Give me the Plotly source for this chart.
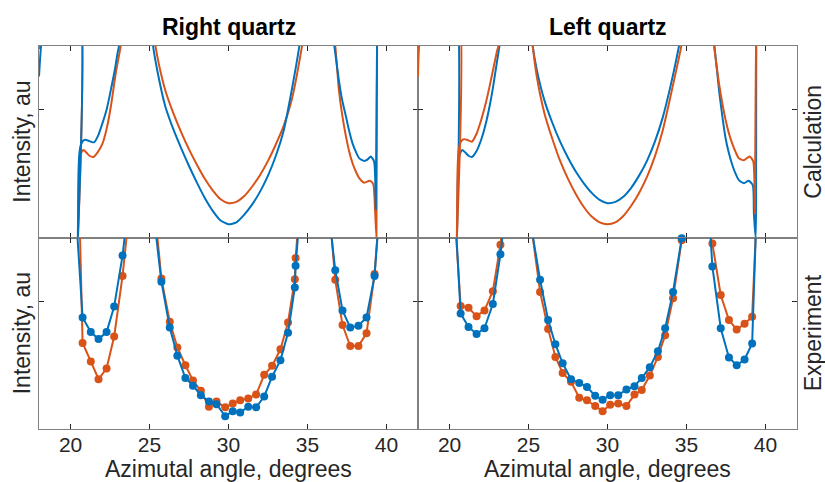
import plotly.graph_objects as go

BLUE = "#0072BD"
ORANGE = "#D95319"

# ---------------- Calculation (top row) ----------------
# Right quartz
calcR_blue_x = [18.0, 18.13, 18.5, 20.38, 20.46, 20.5, 20.55, 20.65, 20.78, 20.92, 21.1, 21.3, 21.49, 21.75, 22.02, 22.3, 22.55, 22.8, 22.97, 23.07, 23.3, 24.2, 25.0, 25.22, 25.5, 26.0, 26.5, 27.0, 27.5, 28.0, 28.5, 29.0, 29.5, 30.0, 30.5, 31.0, 31.5, 32.0, 32.5, 33.0, 33.5, 34.0, 34.49, 34.7, 35.6, 36.5, 36.7, 36.99, 37.2, 37.44, 37.65, 37.86, 38.07, 38.28, 38.59, 38.8, 39.01, 39.22, 39.33, 39.44, 40.0, 42.0]
calcR_blue_y = [2.52, 3.0, 3.8, 4.0, 0.0, 1.0, 1.3, 1.45, 1.51, 1.53, 1.52, 1.50, 1.49, 1.6, 1.79, 2.02, 2.31, 2.62, 2.88, 3.0, 3.5, 8.0, 3.6, 3.0, 2.6, 2.05, 1.7, 1.40, 1.12, 0.86, 0.62, 0.42, 0.27, 0.21, 0.24, 0.36, 0.52, 0.72, 0.97, 1.28, 1.68, 2.3, 3.0, 3.4, 8.0, 3.4, 3.0, 2.46, 2.15, 1.89, 1.66, 1.47, 1.34, 1.24, 1.20, 1.22, 1.27, 1.19, 0.45, 4.0, 8.0, 8.0]
calcR_orange_x = [18.0, 18.05, 18.5, 20.38, 20.47, 20.52, 20.6, 20.7, 20.82, 21.0, 21.2, 21.43, 21.7, 22.02, 22.3, 22.55, 22.86, 23.18, 23.4, 24.3, 25.1, 25.37, 25.6, 26.0, 26.5, 27.0, 27.5, 28.0, 28.5, 29.0, 29.5, 30.0, 30.5, 31.0, 31.5, 32.0, 32.5, 33.0, 33.5, 34.0, 34.66, 34.9, 35.7, 36.55, 36.76, 36.99, 37.2, 37.44, 37.65, 37.86, 38.07, 38.28, 38.59, 38.95, 39.16, 39.28, 39.37, 39.43, 40.0, 42.0]
calcR_orange_y = [2.95, 3.0, 3.8, 4.0, 0.0, 0.9, 1.25, 1.34, 1.37, 1.33, 1.28, 1.26, 1.33, 1.47, 1.72, 2.05, 2.57, 3.0, 3.4, 8.0, 3.5, 3.0, 2.7, 2.3, 1.95, 1.65, 1.38, 1.14, 0.92, 0.74, 0.60, 0.54, 0.56, 0.65, 0.80, 0.98, 1.2, 1.46, 1.75, 2.15, 3.0, 3.4, 8.0, 3.4, 3.0, 2.31, 1.92, 1.58, 1.34, 1.16, 1.03, 0.93, 0.86, 0.89, 0.84, 0.43, 0.0, 4.0, 8.0, 8.0]

# Left quartz
calcL_orange_x = [18.0, 18.07, 18.5, 20.38, 20.46, 20.5, 20.55, 20.65, 20.78, 20.91, 21.1, 21.41, 21.7, 22.0, 22.27, 22.53, 22.8, 23.02, 23.1, 23.3, 24.2, 25.0, 25.26, 25.5, 26.0, 26.5, 27.0, 27.5, 28.0, 28.5, 29.0, 29.5, 30.0, 30.5, 31.0, 31.5, 32.0, 32.5, 33.0, 33.5, 34.0, 34.68, 34.9, 35.7, 36.55, 36.74, 37.06, 37.27, 37.48, 37.69, 37.9, 38.11, 38.32, 38.64, 39.0, 39.23, 39.33, 39.44, 40.0, 42.0]
calcL_orange_y = [2.52, 3.0, 3.8, 4.0, 0.0, 1.0, 1.3, 1.46, 1.52, 1.54, 1.53, 1.50, 1.62, 1.84, 2.08, 2.36, 2.68, 2.93, 3.0, 3.5, 8.0, 3.6, 3.0, 2.55, 1.95, 1.55, 1.2, 0.92, 0.68, 0.48, 0.33, 0.24, 0.21, 0.24, 0.34, 0.5, 0.7, 0.95, 1.27, 1.68, 2.22, 3.0, 3.4, 8.0, 3.4, 3.0, 2.41, 2.1, 1.84, 1.63, 1.47, 1.34, 1.24, 1.21, 1.27, 1.19, 0.38, 4.0, 8.0, 8.0]
calcL_blue_x = [18.0, 18.5, 20.38, 20.47, 20.52, 20.6, 20.7, 20.8, 21.0, 21.2, 21.41, 21.7, 22.0, 22.27, 22.53, 22.75, 22.95, 23.16, 23.4, 24.3, 25.0, 25.26, 25.5, 26.0, 26.5, 27.0, 27.5, 28.0, 28.5, 29.0, 29.5, 30.0, 30.5, 31.0, 31.5, 32.0, 32.5, 33.0, 33.5, 34.0, 34.53, 34.8, 35.7, 36.55, 36.77, 37.06, 37.27, 37.48, 37.69, 37.9, 38.11, 38.32, 38.64, 38.94, 39.2, 39.27, 39.38, 39.45, 40.0, 42.0]
calcL_blue_y = [4.0, 5.0, 4.0, 0.0, 0.9, 1.25, 1.34, 1.37, 1.33, 1.28, 1.26, 1.35, 1.53, 1.76, 2.05, 2.35, 2.67, 3.0, 3.5, 8.0, 3.6, 3.0, 2.65, 2.15, 1.8, 1.5, 1.25, 1.03, 0.85, 0.7, 0.59, 0.54, 0.56, 0.64, 0.78, 0.97, 1.2, 1.5, 1.88, 2.38, 3.0, 3.4, 8.0, 3.4, 3.0, 2.31, 1.9, 1.55, 1.32, 1.14, 1.0, 0.90, 0.85, 0.89, 0.82, 0.38, 0.0, 4.0, 8.0, 8.0]

# ---------------- Experiment (bottom row) ----------------
expR_x = [20.26, 20.76, 21.28, 21.77, 22.28, 22.76, 23.29, 23.79, 24.3, 24.8, 25.25, 25.75, 26.28, 26.76, 27.27, 27.75, 28.25, 28.76, 29.24, 29.79, 30.27, 30.74, 31.25, 31.75, 32.26, 32.76, 33.29, 33.77, 34.2, 34.25, 34.75, 35.3, 35.8, 36.26, 36.76, 37.22, 37.71, 38.23, 38.74, 39.25, 39.75]
expR_blue = [3.7, 1.75, 1.52, 1.41, 1.52, 1.92, 2.72, 4.1, 6.0, 6.0, 3.39, 2.31, 1.59, 1.15, 0.80, 0.68, 0.53, 0.43, 0.39, 0.20, 0.28, 0.26, 0.35, 0.34, 0.51, 0.82, 1.08, 1.51, 2.22, 2.56, 4.1, 6.0, 6.0, 3.6, 2.49, 1.86, 1.59, 1.62, 1.75, 2.40, 4.07]
expR_orange = [6.5, 1.35, 1.06, 0.78, 0.95, 1.45, 2.40, 3.83, 6.0, 6.0, 3.64, 2.36, 1.68, 1.28, 1.00, 0.76, 0.60, 0.35, 0.43, 0.34, 0.40, 0.45, 0.48, 0.54, 0.85, 0.99, 1.25, 1.67, 2.35, 2.68, 4.3, 6.0, 6.0, 3.8, 2.34, 1.63, 1.30, 1.30, 1.50, 2.43, 4.1]

expL_x = [20.2, 20.70, 21.20, 21.71, 22.21, 22.74, 23.22, 23.72, 24.2, 24.7, 25.22, 25.73, 26.24, 26.70, 27.16, 27.69, 28.21, 28.70, 29.22, 29.69, 30.17, 30.68, 31.20, 31.71, 32.17, 32.68, 33.19, 33.65, 34.15, 34.70, 35.2, 35.7, 36.14, 36.64, 37.17, 37.69, 38.18, 38.68, 39.16, 39.66]
expL_blue = [4.1, 1.81, 1.60, 1.49, 1.58, 1.96, 2.74, 4.2, 6.0, 6.0, 3.1, 2.34, 1.71, 1.33, 1.03, 0.78, 0.72, 0.66, 0.52, 0.46, 0.53, 0.53, 0.62, 0.67, 0.80, 0.97, 1.22, 1.58, 2.15, 2.99, 6.0, 6.0, 4.6, 2.55, 1.58, 1.12, 1.00, 1.09, 1.34, 5.1]
expL_orange = [3.84, 1.93, 1.90, 1.77, 1.86, 2.16, 2.89, 4.5, 6.0, 6.0, 3.1, 2.15, 1.57, 1.13, 0.88, 0.74, 0.49, 0.45, 0.36, 0.28, 0.38, 0.40, 0.36, 0.54, 0.61, 0.84, 1.13, 1.47, 2.05, 2.96, 6.0, 6.0, 3.3, 2.91, 2.10, 1.71, 1.56, 1.65, 1.76, 4.6]

x_tick_vals = [20, 25, 30, 35, 40]
x_tick_text = ["20", "25", "30", "35", "40"]

W, H = 825, 482
FONT = "Helvetica, Liberation Sans, Arial, sans-serif"

fig = go.Figure()


def calc_trace(x, y, color, ax):
    fig.add_trace(go.Scatter(x=x, y=y, mode="lines", line=dict(color=color, width=2, shape="spline", smoothing=0.6),
                             xaxis="x" + ax, yaxis="y" + ax, showlegend=False, hoverinfo="skip"))


def exp_trace(x, y, color, ax):
    fig.add_trace(go.Scatter(x=x, y=y, mode="lines", line=dict(color=color, width=2),
                             xaxis="x" + ax, yaxis="y" + ax, showlegend=False, hoverinfo="skip"))
    vx = [a for a, b in zip(x, y) if b <= 3.02]
    vy = [b for b in y if b <= 3.02]
    fig.add_trace(go.Scatter(x=vx, y=vy, mode="markers", marker=dict(color=color, size=8),
                             cliponaxis=False, xaxis="x" + ax, yaxis="y" + ax, showlegend=False, hoverinfo="skip"))


calc_trace(calcR_orange_x, calcR_orange_y, ORANGE, "")
calc_trace(calcR_blue_x, calcR_blue_y, BLUE, "")
calc_trace(calcL_blue_x, calcL_blue_y, BLUE, "2")
calc_trace(calcL_orange_x, calcL_orange_y, ORANGE, "2")
exp_trace(expR_x, expR_orange, ORANGE, "3")
exp_trace(expR_x, expR_blue, BLUE, "3")
exp_trace(expL_x, expL_orange, ORANGE, "4")
exp_trace(expL_x, expL_blue, BLUE, "4")

xl = [39 / W, 418 / W]
xr = [418 / W, 797 / W]
yt = [(H - 237.7) / H, (H - 45.7) / H]
yb = [(H - 429) / H, (H - 237.7) / H]

common_x = dict(range=[18, 42], tickvals=x_tick_vals, ticktext=x_tick_text, ticks="inside", ticklen=5,
                tickcolor="#262626", tickwidth=1, showline=True, linecolor="#808080", linewidth=1.2,
                mirror="ticks", showgrid=False, zeroline=False, ticklabelstandoff=-3,
                tickfont=dict(family=FONT, size=21, color="#262626"))
common_y = dict(range=[0, 3], tickvals=[2], showticklabels=False, ticks="inside", ticklen=5,
                tickcolor="#262626", tickwidth=1, showline=True, linecolor="#808080", linewidth=1.2,
                mirror="ticks", showgrid=False, zeroline=False)

fig.update_layout(
    width=W, height=H, margin=dict(l=0, r=0, t=0, b=0),
    paper_bgcolor="white", plot_bgcolor="white",
    xaxis=dict(common_x, domain=xl, anchor="y", showticklabels=False),
    yaxis=dict(common_y, domain=yt, anchor="x"),
    xaxis2=dict(common_x, domain=xr, anchor="y2", showticklabels=False),
    yaxis2=dict(common_y, domain=yt, anchor="x2"),
    xaxis3=dict(common_x, domain=xl, anchor="y3"),
    yaxis3=dict(common_y, domain=yb, anchor="x3"),
    xaxis4=dict(common_x, domain=xr, anchor="y4"),
    yaxis4=dict(common_y, domain=yb, anchor="x4"),
)


def ann(text, xpx, ypx, size=23, bold=False, angle=0):
    fig.add_annotation(text=("<b>%s</b>" % text) if bold else text, x=xpx / W, y=1 - ypx / H,
                       xref="paper", yref="paper", showarrow=False, xanchor="center", yanchor="middle",
                       textangle=angle, font=dict(family=FONT, size=size, color="#000000" if bold else "#262626"))


ann("Right quartz", 228.5, 27, bold=True)
ann("Left quartz", 607.5, 27, bold=True)
ann("Azimutal angle, degrees", 228.5, 469)
ann("Azimutal angle, degrees", 607.5, 469)
ann("Intensity, au", 22, 141.7, angle=-90)
ann("Intensity, au", 22, 333.3, angle=-90)
ann("Calculation", 813, 141.7, angle=-90)
ann("Experiment", 813, 333.3, angle=-90)

fig.write_html("out.html", config={"displayModeBar": False},
               post_script="document.body.style.margin='0px';")
